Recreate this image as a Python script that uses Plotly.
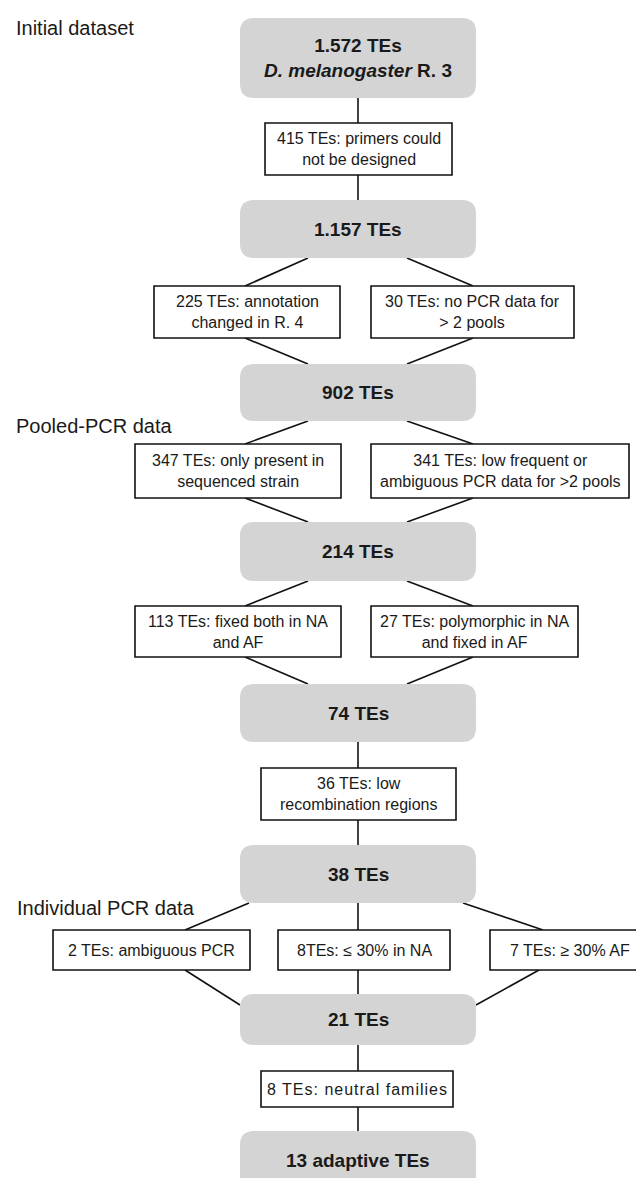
import plotly.graph_objects as go

# ---- data ----
stage_labels = ["Initial dataset", "Pooled-PCR data", "Individual PCR data"]
node_labels = [
    "<b>1.572 TEs</b><br><b><i>D. melanogaster</i> R. 3</b>",
    "<b>1.157 TEs</b>",
    "<b>902 TEs</b>",
    "<b>214 TEs</b>",
    "<b>74 TEs</b>",
    "<b>38 TEs</b>",
    "<b>21 TEs</b>",
    "<b>13 adaptive TEs</b>",
]
filter_labels = [
    "415 TEs: primers could<br>not be designed",
    "225 TEs: annotation<br>changed in R. 4",
    "30 TEs: no PCR data for<br>> 2 pools",
    "347 TEs: only present in<br>sequenced strain",
    "341 TEs: low frequent or<br>ambiguous PCR data for >2 pools",
    "113 TEs: fixed both in NA<br>and AF",
    "27 TEs: polymorphic in NA<br>and fixed in AF",
    "36 TEs: low<br>recombination regions",
    "2 TEs: ambiguous PCR",
    "8TEs: ≤ 30% in NA",
    "7 TEs: ≥ 30% AF",
    "<span style='letter-spacing:1px'>8 TEs: neutral families</span>",
]

# ---- layout geometry (pixels, y downward) ----
W, H = 644, 1178
GX0, GX1 = 232, 468          # grey boxes horizontal extent
node_y = [(10, 90), (192, 250), (356, 413), (514, 573), (676, 734),
          (837, 895), (986, 1037), (1123, 1192)]
filter_box = [
    (257, 444, 115, 167),
    (146, 332, 278, 330), (363, 566, 278, 330),
    (127, 333, 436, 490), (363, 621, 436, 490),
    (127, 333, 598, 649), (363, 570, 598, 649),
    (253, 448, 760, 812),
    (45, 242, 922, 962), (270, 442, 922, 962), (482, 641, 922, 962),
    (253, 445, 1063, 1099),
]
stage_pos = [(6, 20), (6, 418), (7, 900)]

FONT = "Liberation Sans, Arial, sans-serif"
GREY = "#d4d4d4"
TXT = "#1a1a1a"
LW = 1.6

fig = go.Figure()
shapes = []
annotations = []


def rrect(x0, y0, x1, y1, r=14):
    return (f"M {x0+r},{y0} L {x1-r},{y0} Q {x1},{y0} {x1},{y0+r} "
            f"L {x1},{y1-r} Q {x1},{y1} {x1-r},{y1} L {x0+r},{y1} "
            f"Q {x0},{y1} {x0},{y1-r} L {x0},{y0+r} Q {x0},{y0} {x0+r},{y0} Z")


def line(x0, y0, x1, y1):
    shapes.append(dict(type="line", x0=x0, y0=y0, x1=x1, y1=y1,
                       line=dict(color="#111", width=LW), layer="below"))


cx = (GX0 + GX1) / 2

# connectors
line(cx, node_y[0][1], cx, node_y[1][0])
pairs = [(1, 2, 1, 2), (2, 3, 3, 4), (3, 4, 5, 6)]
for na, nb, fa, fb in pairs:
    ya1 = node_y[na][1]
    yb0 = node_y[nb][0]
    lf = filter_box[fa]
    rf = filter_box[fb]
    lx_top = 237
    rx_top = 465
    line(300, ya1, lx_top, lf[2])
    line(399, ya1, rx_top, rf[2])
    line(lx_top, lf[3], 300, yb0)
    line(rx_top, rf[3], 399, yb0)
line(cx, node_y[4][1], cx, node_y[5][0])
y5 = node_y[5][1]
y6 = node_y[6][0]
line(241, y5, 177, filter_box[8][2])
line(cx, y5, cx, filter_box[9][2])
line(455, y5, 535, filter_box[10][2])
line(177, filter_box[8][3], GX0, 997)
line(cx, filter_box[9][3], cx, y6)
line(531, filter_box[10][3], GX1, 997)
line(cx, node_y[6][1], cx, node_y[7][0])

# grey nodes
for (y0, y1), lab in zip(node_y, node_labels):
    shapes.append(dict(type="path", path=rrect(GX0, y0, GX1, y1),
                       fillcolor=GREY, line=dict(width=0), layer="above"))
    yc = (y0 + y1) / 2 if y1 < H else 1152
    annotations.append(dict(x=cx, y=yc, text=lab, showarrow=False,
                            font=dict(family=FONT, size=19, color=TXT),
                            xanchor="center", yanchor="middle"))

# white filter boxes
for (x0, x1, y0, y1), lab in zip(filter_box, filter_labels):
    shapes.append(dict(type="rect", x0=x0, x1=x1, y0=y0, y1=y1,
                       fillcolor="white", line=dict(color="#111", width=LW),
                       layer="above"))
    annotations.append(dict(x=(x0 + x1) / 2, y=(y0 + y1) / 2, text=lab,
                            showarrow=False,
                            font=dict(family=FONT, size=16, color=TXT),
                            xanchor="center", yanchor="middle"))

# stage labels
for (x, y), lab in zip(stage_pos, stage_labels):
    annotations.append(dict(x=x, y=y, text=lab, showarrow=False,
                            font=dict(family=FONT, size=20, color=TXT),
                            xanchor="left", yanchor="middle"))

fig.update_layout(
    width=W, height=H,
    margin=dict(l=0, r=0, t=0, b=0),
    paper_bgcolor="white", plot_bgcolor="white",
    xaxis=dict(range=[0, W], visible=False, fixedrange=True),
    yaxis=dict(range=[H, 0], visible=False, fixedrange=True),
    shapes=shapes, annotations=annotations, showlegend=False,
)
fig.write_html("out.html")
